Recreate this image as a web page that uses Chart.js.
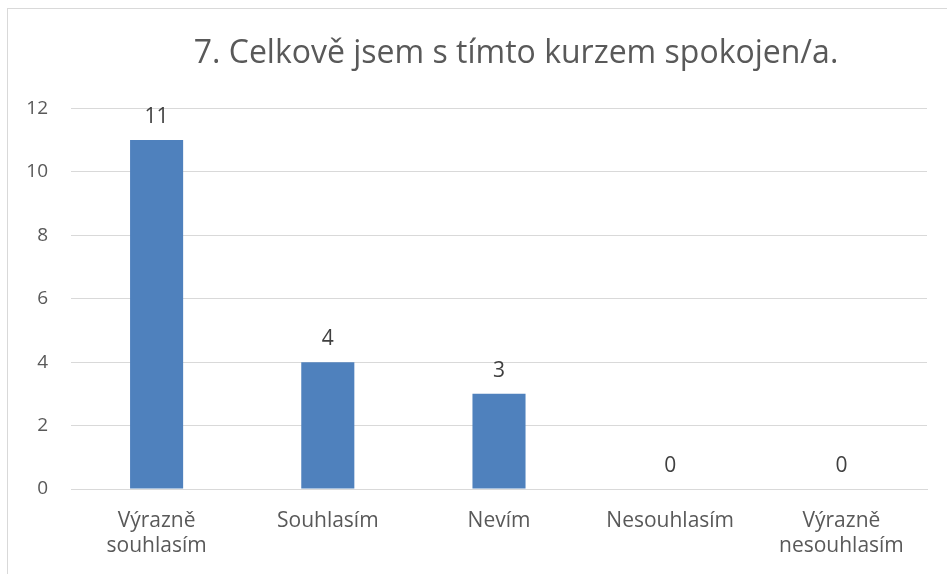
<!DOCTYPE html>
<html>
<head>
<meta charset="utf-8">
<script src="https://cdn.jsdelivr.net/npm/chart.js@4"></script>
<style>
  html, body { margin: 0; padding: 0; overflow: hidden; background: #fff; }
  #wrap {
    position: absolute; left: 7px; top: 8px;
    width: 1016px; height: 566px;
    border-top: 1px solid #d9d9d9; border-left: 1px solid #d9d9d9;
  }
</style>
</head>
<body>
<div id="wrap"><canvas id="chart"></canvas></div>
<script>
// Chart data
const title = '7. Celkově jsem s tímto kurzem spokojen/a.';
const categories = [['Výrazně', 'souhlasím'], 'Souhlasím', 'Nevím', 'Nesouhlasím', ['Výrazně', 'nesouhlasím']];
const counts = [11, 4, 3, 0, 0];
const yTicks = [0, 2, 4, 6, 8, 10, 12];

const fontFamily = '"Open Sans", Lato, sans-serif';

// Draw value labels above each bar
const valueLabels = {
    id: 'valueLabels',
    afterDatasetsDraw(chart) {
        const ctx = chart.ctx;
        const meta = chart.getDatasetMeta(0);
        ctx.save();
        ctx.font = '21px ' + fontFamily;
        ctx.fillStyle = '#404040';
        ctx.textAlign = 'center';
        ctx.textBaseline = 'alphabetic';
        meta.data.forEach((bar, i) => {
            ctx.fillText(String(counts[i]), bar.x, bar.y - 17);
        });
        ctx.restore();
    }
};

const canvas = document.getElementById('chart');
canvas.width = 1016;
canvas.height = 566;

new Chart(canvas.getContext('2d'), {
    type: 'bar',
    data: {
        labels: categories,
        datasets: [{
            data: counts,
            backgroundColor: '#4f81bd',
            borderWidth: 0,
            barPercentage: 0.31,
            categoryPercentage: 1
        }]
    },
    options: {
        responsive: false,
        animation: false,
        layout: { padding: 0 },
        plugins: {
            legend: { display: false },
            tooltip: { enabled: false },
            title: {
                display: true,
                text: title,
                color: '#595959',
                font: { family: fontFamily, size: 32, weight: 'normal', lineHeight: 1.2 },
                padding: { top: 26, bottom: 35 }
            }
        },
        scales: {
            x: {
                grid: { display: false, drawTicks: false },
                border: { display: true, color: '#d9d9d9' },
                ticks: {
                    color: '#595959',
                    font: { family: fontFamily, size: 21, lineHeight: 1.2 },
                    padding: 19,
                    maxRotation: 0,
                    autoSkip: false
                },
                afterFit(scale) { scale.height = 86; }
            },
            y: {
                min: 0,
                max: 12,
                afterBuildTicks(scale) { scale.ticks = yTicks.map(v => ({ value: v })); },
                grid: { color: '#d9d9d9', drawTicks: false },
                border: { display: false },
                ticks: {
                    color: '#595959',
                    font: { family: fontFamily, size: 19 },
                    padding: 23
                },
                afterFit(scale) { scale.width = 63; }
            },
            // empty space on the right, keeps the title centred like the original
            yRight: {
                position: 'right',
                min: 0,
                max: 12,
                grid: { display: false, drawTicks: false },
                border: { display: false },
                ticks: { display: false },
                afterFit(scale) { scale.width = 97; }
            }
        }
    },
    plugins: [valueLabels]
});
</script>
</body>
</html>
